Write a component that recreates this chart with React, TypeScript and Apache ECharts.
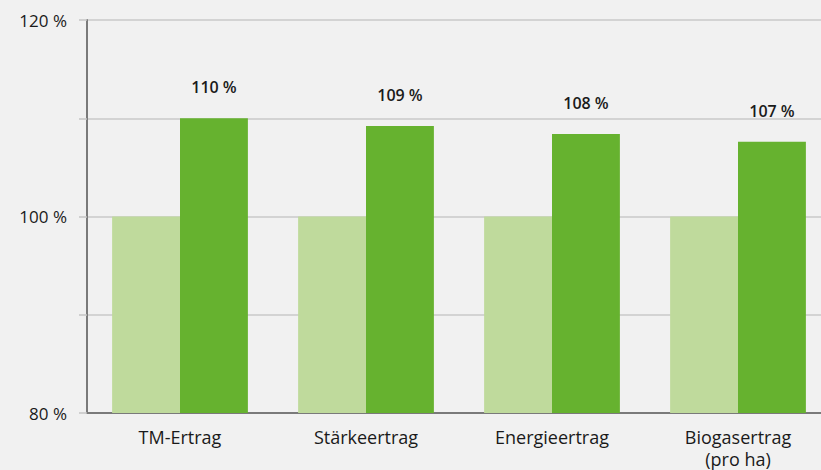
import React, { useEffect, useRef } from "react";
import * as echarts from "echarts";

const categories = ["TM-Ertrag", "Stärkeertrag", "Energieertrag", "Biogasertrag\n(pro ha)"];
const referenceValues = [100, 100, 100, 100];
const newValues = [110, 109.2, 108.4, 107.6];
const valueLabels = ["110 %", "109 %", "108 %", "107 %"];
const yTicks = [80, 100, 120];

export default function App() {
  const ref = useRef<HTMLDivElement>(null);
  useEffect(() => {
    if (!ref.current) return;
    const chart = echarts.init(ref.current, null, { renderer: "svg" });
    const font = "'Open Sans', 'Noto Sans', sans-serif";
    chart.setOption({
      animation: false,
      backgroundColor: "#f1f1f1",
      textStyle: { fontFamily: font },
      grid: { left: 87, top: 20, width: 744, height: 394, containLabel: false },
      xAxis: {
        type: "category",
        data: categories,
        axisLine: { lineStyle: { color: "#7a7a7a", width: 2 } },
        axisTick: { show: false },
        axisLabel: { color: "#1a1a1a", fontSize: 18, fontFamily: font, margin: 13, lineHeight: 22 },
      },
      yAxis: {
        type: "value",
        min: 80,
        max: 120,
        interval: 10,
        axisLine: { show: true, lineStyle: { color: "#7a7a7a", width: 2 } },
        axisTick: { show: true, length: 8, lineStyle: { color: "#c4c4c4", width: 1.5 } },
        splitLine: { lineStyle: { color: "#c8c8c8", width: 1.5 } },
        axisLabel: {
          color: "#1a1a1a",
          fontSize: 17,
          fontFamily: font,
          margin: 20,
          formatter: (v: number) => (yTicks.includes(v) ? v + " %" : ""),
        },
      },
      series: [
        {
          type: "bar",
          data: referenceValues,
          barGap: "0%",
          barCategoryGap: "27%",
          itemStyle: { color: "#bfda9c" },
        },
        {
          type: "bar",
          data: newValues,
          itemStyle: { color: "#66b22f" },
          label: {
            show: true,
            position: "top",
            distance: 23,
            color: "#1a1a1a",
            fontSize: 16,
            fontWeight: 600,
            fontFamily: font,
            formatter: (p: any) => valueLabels[p.dataIndex],
          },
        },
      ],
    });
    return () => chart.dispose();
  }, []);
  return (
    <div
      ref={ref}
      style={{ position: "fixed", left: 0, top: 0, width: 831, height: 470 }}
    />
  );
}
